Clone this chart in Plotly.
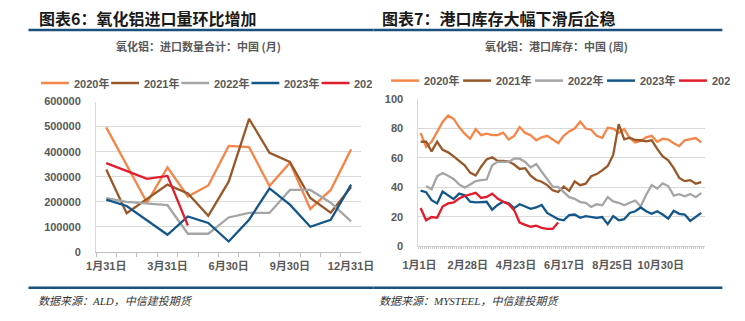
import plotly.graph_objects as go

W, H = 745, 321

# ---------------- data: left chart (monthly imports, tonnes) ----------------
months = ["1月31日", "2月28日", "2月29日", "3月31日", "4月30日", "5月31日", "6月30日",
          "7月31日", "8月31日", "9月30日", "10月31日", "11月30日", "12月31日"]
month_ticks = ["1月31日", "3月31日", "6月30日", "9月30日", "12月31日"]
imp_2020 = [497000, None, 196000, 337000, 221000, 265000, 423000, 418000, 263000, 356000, 171000, 247000, 409000]
imp_2021 = [329000, 154000, None, 268000, 233000, 144000, 280000, 531000, 395000, 359000, 215000, 156000, 259000]
imp_2022 = [214000, 199000, None, 186000, 72000, 72000, 137000, 155000, 155000, 247000, 247000, 196000, 121000]
imp_2023 = [208000, 183000, None, 68000, 141000, 115000, 41000, 128000, 253000, 188000, 100000, 128000, 268000]
imp_2024 = [354000, None, 291000, 303000, 105000]

# ---------------- data: right chart (weekly port stocks, 万吨) ----------------
week_ticks = ["1月1日", "2月28日", "4月23日", "6月17日", "8月25日", "10月30日"]
stk_2020 = [77.0, 67.5, 71.0, 77.5, 84.5, 88.8, 86.5, 81.0, 76.5, 73.0, 79.5, 75.5, 76.5, 75.5, 75.5, 77.2,
            72.5, 75.0, 81.0, 77.0, 75.5, 72.0, 74.0, 75.0, 72.6, 70.0, 75.0, 78.0, 80.0, 84.7, 80.0, 79.2,
            75.0, 73.7, 80.5, 80.0, 77.0, 79.5, 73.5, 70.5, 71.5, 74.0, 75.0, 71.0, 73.0, 72.5, 70.0, 68.0,
            72.0, 72.5, 73.5, 70.5]
stk_2021 = [71.0, 71.0, 64.5, 71.0, 65.5, 63.8, 61.0, 58.0, 55.0, 50.0, 48.0, 54.0, 59.0, 60.5, 58.0, 58.0,
            57.5, 55.5, 52.5, 53.0, 48.0, 45.0, 43.8, 41.5, 38.0, 36.8, 40.5, 37.6, 44.0, 41.5, 42.5, 47.5,
            49.0, 51.5, 54.5, 62.0, 83.0, 72.6, 73.7, 72.2, 72.0, 71.2, 72.0, 66.1, 61.0, 58.4, 53.0, 46.4,
            44.2, 44.9, 42.5, 43.5]
stk_2022 = [None, 40.9, 38.7, 47.5, 49.7, 47.9, 45.7, 42.0, 39.8, 42.0, 44.2, 44.9, 45.3, 55.0, 57.3, 57.3,
            57.3, 59.5, 59.5, 57.3, 53.5, 55.8, 50.8, 45.3, 40.5, 40.3, 36.5, 33.3, 32.2, 30.0, 29.5, 26.7,
            28.5, 27.8, 33.3, 30.4, 29.5, 27.8, 29.5, 31.0, 27.0, 35.0, 41.5, 39.2, 42.7, 40.9, 34.4, 35.4,
            33.9, 35.4, 33.3, 36.1]
stk_2023 = [37.8, 36.7, 31.3, 29.1, 37.2, 34.6, 32.0, 35.7, 34.6, 30.2, 29.8, 30.0, 30.2, 24.8, 28.0, 30.2,
            29.1, 25.9, 28.5, 27.0, 25.4, 26.3, 28.0, 22.6, 20.4, 18.3, 17.6, 21.1, 21.5, 19.3, 20.4, 19.8,
            19.3, 19.8, 15.0, 20.4, 17.6, 18.3, 22.6, 23.7, 26.3, 23.7, 22.0, 23.7, 21.5, 18.7, 24.1, 22.0,
            21.5, 17.2, 19.8, 22.6]
stk_2024 = [25.9, 17.6, 19.8, 19.3, 27.0, 29.1, 29.8, 32.4, 34.1, 35.0, 36.3, 32.8, 33.5, 35.7, 32.4, 30.2,
            28.5, 24.5, 16.1, 14.5, 13.2, 13.9, 12.5, 11.7, 11.7, 16.1]

years = ["2020年", "2021年", "2022年", "2023年", "2024年"]
colors = ["#F58549", "#99582A", "#A5A5A5", "#13568A", "#E21C2B"]

left_series = [imp_2020, imp_2021, imp_2022, imp_2023, imp_2024]
right_series = [stk_2020, stk_2021, stk_2022, stk_2023, stk_2024]

# ---------------- helpers ----------------
def px(x):
    return x / W

def py(y):
    return 1 - y / H

TICK_FONT = dict(family="Liberation Sans, Noto Sans CJK SC", size=11, color="#595959", weight="bold")
CJK = "Noto Sans CJK SC"
GRID = "#D9D9D9"
BLUE_RULE = "#1B4F7C"

fig = go.Figure()

weeks = list(range(len(stk_2020)))

for name, col, vals in zip(years, colors, left_series):
    fig.add_trace(go.Scatter(x=months[:len(vals)], y=vals, mode="lines", name=name,
                             line=dict(color=col, width=2.3), connectgaps=True,
                             xaxis="x", yaxis="y", showlegend=False))

for name, col, vals in zip(years, colors, right_series):
    fig.add_trace(go.Scatter(x=weeks[:len(vals)], y=vals, mode="lines", name=name,
                             line=dict(color=col, width=2.3), connectgaps=False,
                             xaxis="x2", yaxis="y2", showlegend=False))

tick_text_left = [m if m in month_ticks else "" for m in months]
week_tickvals = [-0.2 + i * 8.77 for i in range(len(week_ticks))]

fig.update_layout(
    width=W, height=H,
    margin=dict(l=0, r=0, t=0, b=0),
    paper_bgcolor="white", plot_bgcolor="white",
    showlegend=False,
    xaxis=dict(domain=[px(83.3), px(359.3)], anchor="y", type="category",
               categoryorder="array", categoryarray=months,
               tickmode="array", tickvals=months, ticktext=tick_text_left, tickangle=0,
               tickson="boundaries", ticks="outside", ticklen=4, tickcolor="#BFBFBF",
               showline=True, linecolor="#BFBFBF", linewidth=1, showgrid=False,
               tickfont=TICK_FONT, ticklabelstandoff=4, range=[-0.5, 12.5]),
    yaxis=dict(domain=[py(255.3), py(99.3)], anchor="x", range=[0, 600000], dtick=100000,
               tickformat="d", showgrid=True, gridcolor=GRID, gridwidth=1,
               showline=True, linecolor=GRID, zeroline=False, ticks="",
               tickfont=TICK_FONT, ticklabelstandoff=12),
    xaxis2=dict(domain=[px(418.7), px(717.3)], anchor="y2", range=[-0.4, 51.75],
                tickmode="array", tickvals=week_tickvals, ticktext=week_ticks, tickangle=0,
                ticks="", showline=True, linecolor="#D0D0D0", showgrid=False, zeroline=False,
                tickfont=TICK_FONT, ticklabelstandoff=9,
                minor=dict(ticks="outside", ticklen=2, tickcolor="#C8C8C8", tickmode="linear",
                           tick0=-0.4, dtick=0.36, showgrid=False)),
    yaxis2=dict(domain=[py(249.5), py(96.7)], anchor="x2", range=[0, 100], dtick=20,
                showgrid=True, gridcolor=GRID, gridwidth=1,
                showline=True, linecolor=GRID, zeroline=False, ticks="",
                tickfont=TICK_FONT, ticklabelstandoff=12),
)

shapes = []
annotations = []

# titles and rules
titles = [("图表6：氧化铝进口量环比增加", 22, 13, 372),
          ("图表7：港口库存大幅下滑后企稳", 379, 372, 735)]
for text, tx, x0, x1 in titles:
    annotations.append(dict(text=text, x=px(tx), y=py(12.5), xref="paper", yref="paper",
                            xanchor="left", yanchor="middle", showarrow=False,
                            font=dict(family=CJK, size=16, color="#1A1A1A", weight="bold")))
    shapes.append(dict(type="line", xref="paper", yref="paper", x0=px(x0), x1=px(x1),
                       y0=py(25), y1=py(25), line=dict(color=BLUE_RULE, width=2.5)))
    shapes.append(dict(type="line", xref="paper", yref="paper", x0=px(x0), x1=px(x1),
                       y0=py(292.7), y1=py(292.7), line=dict(color=BLUE_RULE, width=2.5)))

# chart subtitles
subs = [("氧化铝：进口数量合计：中国 (月)", 189.5), ("氧化铝：港口库存：中国 (周)", 562.5)]
for text, cx in subs:
    annotations.append(dict(text=text, x=px(cx), y=py(42), xref="paper", yref="paper",
                            xanchor="center", yanchor="middle", showarrow=False,
                            font=dict(family=CJK, size=11, color="#595959", weight="bold")))

# sources
srcs = [("数据来源：ALD，中信建投期货", 21), ("数据来源：MYSTEEL，中信建投期货", 376)]
for text, sx in srcs:
    annotations.append(dict(text="<i>" + text + "</i>", x=px(sx), y=py(306.5), xref="paper", yref="paper",
                            xanchor="left", yanchor="middle", showarrow=False,
                            font=dict(family="Liberation Serif, " + CJK, size=11, color="#333333",
                                      style="italic")))

# legends (clipped on the right like the original)
legend_sets = [(26, 73.0, 80, 368), (390.3, 74.9, 77.5, 740)]
for lx, step, ly, clip in legend_sets:
    for i, (name, col) in enumerate(zip(years, colors)):
        x0 = lx + i * step
        shapes.append(dict(type="line", xref="paper", yref="paper", x0=px(x0), x1=px(min(x0 + 29, clip)),
                           y0=py(ly), y1=py(ly), line=dict(color=col, width=2.5)))
        tx = x0 + 32
        ann = dict(text=name, x=px(tx), y=py(ly), xref="paper", yref="paper",
                   xanchor="left", yanchor="middle", showarrow=False, align="left",
                   font=dict(family="Liberation Sans, " + CJK, size=11, color="#595959", weight="bold"))
        if tx + 37 > clip:
            ann["width"] = max(clip - tx, 1)
        annotations.append(ann)

fig.update_layout(shapes=shapes, annotations=annotations)

fig.write_html("out.html")
